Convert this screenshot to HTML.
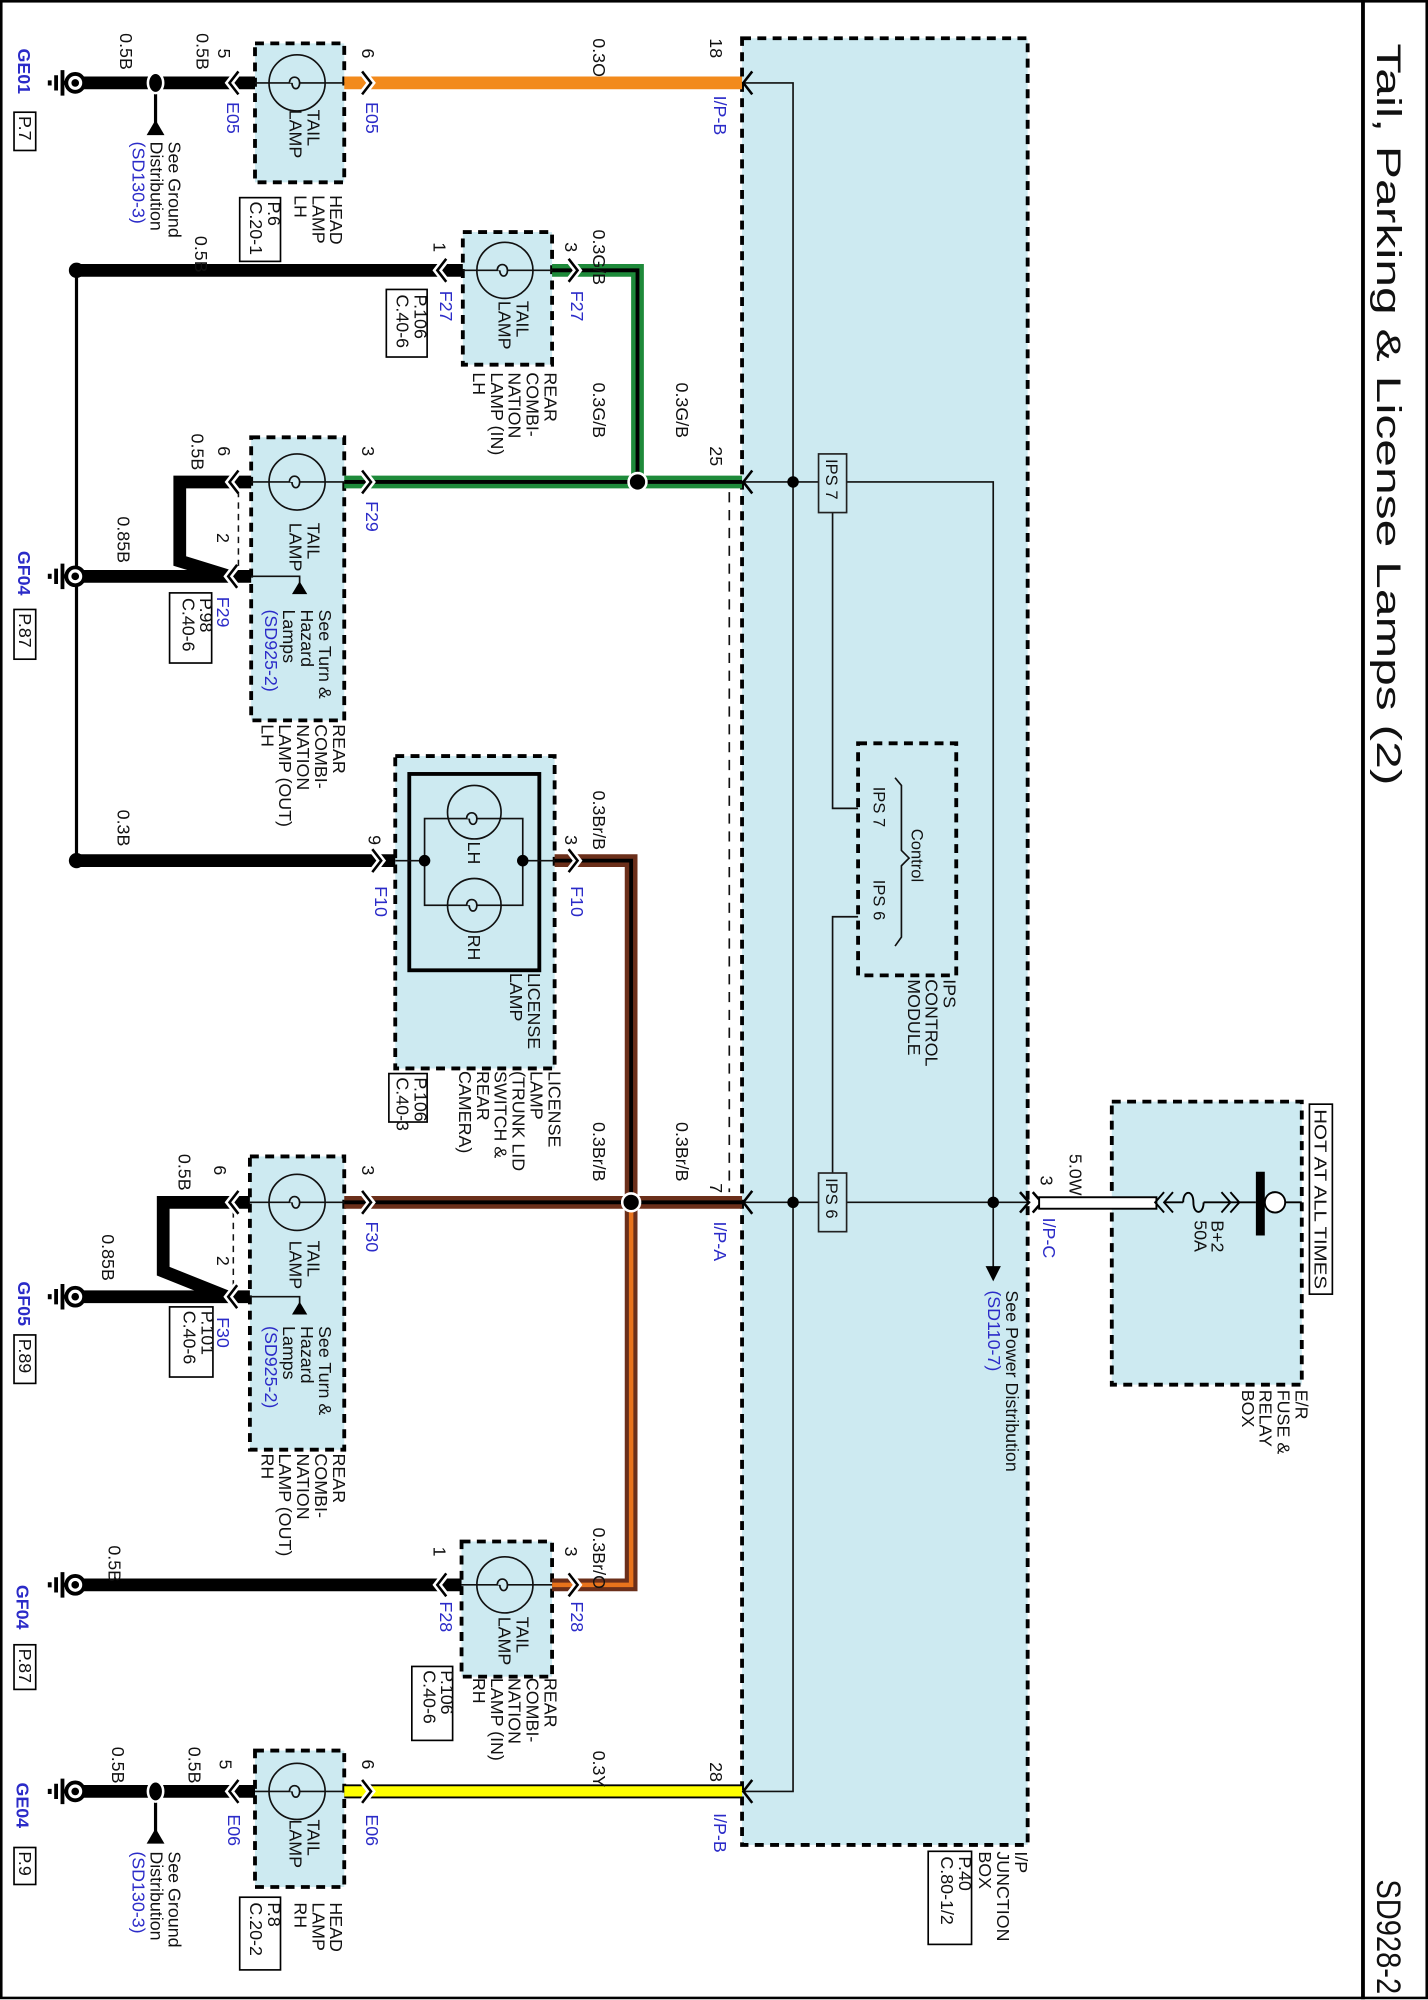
<!DOCTYPE html>
<html><head><meta charset="utf-8"><style>
html,body{margin:0;padding:0;background:#fff}
svg{display:block}
.t{font-family:"Liberation Sans",sans-serif;font-size:14px;fill:#111}
.b{fill:#2b2bc8}
.s{font-size:13px}
</style></head><body>
<svg width="1428" height="2000" viewBox="0 0 1120 1568.6" xmlns="http://www.w3.org/2000/svg">
<!-- frame -->
<rect x="1" y="1" width="1118" height="1566" fill="none" stroke="#000" stroke-width="2"/>
<line x1="1069" y1="0" x2="1069" y2="1568" stroke="#000" stroke-width="3"/>
<text class="t" font-size="27" style="font-size:27px" transform="translate(1080,34) rotate(90)" textLength="582" lengthAdjust="spacingAndGlyphs">Tail, Parking &amp; License Lamps (2)</text>
<text class="t" style="font-size:27px" transform="translate(1080,1474) rotate(90)" textLength="90" lengthAdjust="spacingAndGlyphs">SD928-2</text>

<!-- blue boxes -->
<g fill="#cdeaf1" stroke="#000" stroke-width="3" stroke-dasharray="7 5">
<rect x="582" y="30" width="224" height="1417"/>
<rect x="872" y="864" width="149" height="222"/>
<rect x="200" y="34" width="70" height="109"/>
<rect x="363" y="182" width="70" height="104"/>
<rect x="197" y="343" width="73" height="222"/>
<rect x="310" y="593" width="125" height="245"/>
<rect x="196" y="907" width="74" height="230"/>
<rect x="362" y="1209" width="71" height="106"/>
<rect x="200" y="1373" width="70" height="107"/>
<rect x="673" y="583" width="77" height="182"/>
</g>

<!-- I/P internal thin wiring -->
<g stroke="#111" stroke-width="1.3" fill="none">
<polyline points="582,65 622,65 622,1405 582,1405"/>
<line x1="582" y1="378" x2="642" y2="378"/>
<polyline points="664,378 779,378 779,995"/>
<line x1="582" y1="943" x2="642" y2="943"/>
<line x1="664" y1="943" x2="808" y2="943"/>
<polyline points="653,402 653,634 673,634"/>
<polyline points="653,920 653,719 673,719"/>
<path d="M702,610 L707,616 L707,667 L713,673 L707,679 L707,735 L702,742"/>
<line x1="572" y1="386" x2="572" y2="935" stroke-dasharray="8 6"/>
</g>
<g fill="#000"><circle cx="622" cy="378" r="4.5"/><circle cx="622" cy="943" r="4.5"/><circle cx="779" cy="943" r="4.5"/>
<polygon points="773,993 785,993 779,1005"/></g>
<rect x="642" y="356" width="22" height="46" fill="#cdeaf1" stroke="#222" stroke-width="1.3"/>
<rect x="642" y="920" width="22" height="46" fill="#cdeaf1" stroke="#222" stroke-width="1.3"/>

<!-- wires: black -->
<g stroke="#000" stroke-width="10" fill="none" stroke-linejoin="miter">
<line x1="59" y1="65" x2="200" y2="65"/>
<line x1="60" y1="212" x2="363" y2="212"/>
<polyline points="197,378 141,378 141,440 180,452"/>
<line x1="59" y1="452" x2="197" y2="452"/>
<line x1="60" y1="675" x2="310" y2="675"/>
<polyline points="196,943 128,943 128,997 178,1017"/>
<line x1="59" y1="1017" x2="196" y2="1017"/>
<line x1="59" y1="1243" x2="362" y2="1243"/>
<line x1="59" y1="1405" x2="200" y2="1405"/>
</g>
<line x1="60" y1="212" x2="60" y2="675" stroke="#000" stroke-width="2.5"/>
<g fill="#000"><circle cx="60" cy="212" r="6"/><circle cx="60" cy="675" r="6"/></g>
<!-- splices -->
<g stroke="#000" stroke-width="2.5"><line x1="122" y1="65" x2="122" y2="97"/><line x1="122" y1="1405" x2="122" y2="1437"/></g>
<g fill="#000" stroke="#fff" stroke-width="2"><ellipse cx="122" cy="65" rx="6" ry="8"/><ellipse cx="122" cy="1405" rx="6" ry="8"/></g>
<g fill="#000"><polygon points="115,106 129,106 122,94"/><polygon points="115,1446 129,1446 122,1434"/></g>
<!-- dashed thin on tail lamp out -->
<g stroke="#111" stroke-width="1.2" stroke-dasharray="5 4"><line x1="187" y1="385" x2="187" y2="445"/><line x1="183" y1="950" x2="183" y2="1010"/></g>

<!-- orange -->
<line x1="270" y1="65" x2="582" y2="65" stroke="#f28a1c" stroke-width="10"/>
<!-- green -->
<g fill="none" stroke-linejoin="miter">
<polyline points="433,212 500,212 500,378" stroke="#1e8a3a" stroke-width="10"/>
<polyline points="433,212 500,212 500,378" stroke="#000" stroke-width="3"/>
<line x1="270" y1="378" x2="582" y2="378" stroke="#1e8a3a" stroke-width="10"/>
<line x1="270" y1="378" x2="582" y2="378" stroke="#000" stroke-width="3"/>
<!-- brown -->
<polyline points="435,675 495,675 495,943" stroke="#6b2f1a" stroke-width="10"/>
<polyline points="435,675 495,675 495,943" stroke="#000" stroke-width="3"/>
<polyline points="495,943 495,1243 433,1243" stroke="#6b2f1a" stroke-width="10"/>
<polyline points="495,943 495,1243 433,1243" stroke="#e8731c" stroke-width="3.5"/>
<line x1="270" y1="943" x2="582" y2="943" stroke="#6b2f1a" stroke-width="10"/>
<line x1="270" y1="943" x2="582" y2="943" stroke="#000" stroke-width="3"/>
<!-- yellow -->
<line x1="270" y1="1405" x2="582" y2="1405" stroke="#000" stroke-width="11"/>
<line x1="270" y1="1405" x2="582" y2="1405" stroke="#ffff00" stroke-width="8"/>
</g>
<g fill="#000" stroke="#fff" stroke-width="2"><circle cx="500" cy="378" r="7"/><circle cx="495" cy="943" r="7"/></g>

<!-- grounds -->
<g id="gnds" fill="none" stroke="#000">
<g stroke-width="3"><circle cx="59" cy="65" r="7" fill="#fff"/><circle cx="59" cy="452" r="7" fill="#fff"/><circle cx="59" cy="1017" r="7" fill="#fff"/><circle cx="59" cy="1243" r="7" fill="#fff"/><circle cx="59" cy="1405" r="7" fill="#fff"/></g>
<g stroke-width="3">
<path d="M49,55V75M44,59V71M39,63V67M49,65H52"/>
<path d="M49,442V462M44,446V458M39,450V454M49,452H52"/>
<path d="M49,1007V1027M44,1011V1023M39,1015V1019M49,1017H52"/>
<path d="M49,1233V1253M44,1237V1249M39,1241V1245M49,1243H52"/>
<path d="M49,1395V1415M44,1399V1411M39,1403V1407M49,1405H52"/>
</g></g>
<g fill="#000"><circle cx="59" cy="65" r="3"/><circle cx="59" cy="452" r="3"/><circle cx="59" cy="1017" r="3"/><circle cx="59" cy="1243" r="3"/><circle cx="59" cy="1405" r="3"/></g>

<!-- lamps -->
<g fill="none" stroke="#111" stroke-width="1.3">
<circle cx="233" cy="65" r="22"/><line x1="200" y1="65" x2="270" y2="65"/>
<circle cx="396" cy="212" r="22"/><line x1="363" y1="212" x2="433" y2="212"/>
<circle cx="233" cy="378" r="22"/><line x1="197" y1="378" x2="270" y2="378"/>
<circle cx="233" cy="943" r="22"/><line x1="196" y1="943" x2="270" y2="943"/>
<circle cx="396" cy="1243" r="22"/><line x1="362" y1="1243" x2="433" y2="1243"/>
<circle cx="233" cy="1405" r="22"/><line x1="200" y1="1405" x2="270" y2="1405"/>
<polyline points="197,452 235,452 235,460"/>
<polyline points="196,1017 235,1017 235,1025"/>
<!-- license -->
<rect x="321" y="607" width="102" height="154" stroke="#000" stroke-width="3"/>
<circle cx="372" cy="637" r="21"/><circle cx="372" cy="710" r="21"/>
<rect x="333" y="642" width="77" height="68"/>
<line x1="310" y1="675" x2="333" y2="675"/><line x1="410" y1="675" x2="435" y2="675"/>
</g>
<g fill="#cdeaf1" stroke="#111" stroke-width="1.3">
<path d="M227,65 c0,-6 8,-6 8,0 c0,6 -6,6 -6,0"/>
<path d="M390,212 c0,-6 8,-6 8,0 c0,6 -6,6 -6,0"/>
<path d="M227,378 c0,-6 8,-6 8,0 c0,6 -6,6 -6,0"/>
<path d="M227,943 c0,-6 8,-6 8,0 c0,6 -6,6 -6,0"/>
<path d="M390,1243 c0,-6 8,-6 8,0 c0,6 -6,6 -6,0"/>
<path d="M227,1405 c0,-6 8,-6 8,0 c0,6 -6,6 -6,0"/>
<path d="M366,642 c0,-6 8,-6 8,0 c0,6 -6,6 -6,0"/>
<path d="M366,710 c0,-6 8,-6 8,0 c0,6 -6,6 -6,0"/>
</g>
<g fill="#000"><circle cx="333" cy="675" r="4.5"/><circle cx="410" cy="675" r="4.5"/>
<polygon points="229,466 241,466 235,456"/><polygon points="229,1031 241,1031 235,1021"/></g>

<!-- chevrons -->
<g fill="none" stroke-linecap="butt">
<g stroke="#fff" stroke-width="6">
<path d="M187,56L180,65L187,74M350,203L343,212L350,221M187,369L180,378L187,387M186,443L179,452L186,461M187,934L180,943L187,952M186,1008L179,1017L186,1026M350,1234L343,1243L350,1252M187,1396L180,1405L187,1414"/>
<path d="M284,56L291,65L284,74M446,203L453,212L446,221M284,369L291,378L284,387M292,666L299,675L292,684M446,666L453,675L446,684M284,934L291,943L284,952M446,1234L453,1243L446,1252M284,1396L291,1405L284,1414"/>
</g>
<g stroke="#000" stroke-width="2">
<path d="M187,56L180,65L187,74M350,203L343,212L350,221M187,369L180,378L187,387M186,443L179,452L186,461M187,934L180,943L187,952M186,1008L179,1017L186,1026M350,1234L343,1243L350,1252M187,1396L180,1405L187,1414"/>
<path d="M284,56L291,65L284,74M446,203L453,212L446,221M284,369L291,378L284,387M292,666L299,675L292,684M446,666L453,675L446,684M284,934L291,943L284,952M446,1234L453,1243L446,1252M284,1396L291,1405L284,1414"/>
<path d="M590,56L583,65L590,74M590,369L583,378L590,387M590,934L583,943L590,952M590,1396L583,1405L590,1414"/>
<path d="M800,935L807,943L800,951M810,935L817,943L810,951"/>
</g></g>

<!-- fuse box internals -->
<rect x="815" y="939" width="92" height="9" fill="#fff" stroke="#000" stroke-width="1.5"/>
<g fill="none" stroke="#000" stroke-width="1.5">
<path d="M913,935L906,943L913,951M920,935L913,943L920,951"/>
<line x1="913" y1="943" x2="928" y2="943"/>
<path d="M928,943 c0,-10 8,-10 8,0 c0,10 8,10 8,0"/>
<line x1="944" y1="943" x2="985" y2="943"/>
<path d="M958,935L965,943L958,951M965,935L972,943L965,951"/>
<circle cx="1000" cy="943" r="8" fill="#fff"/>
<line x1="1008" y1="943" x2="1021" y2="943"/>
</g>
<rect x="985" y="919" width="7" height="50" fill="#000"/>
<rect x="1027" y="866" width="18" height="149" fill="none" stroke="#000" stroke-width="1.3"/>

<!-- ref boxes -->
<g fill="#fff" stroke="#000" stroke-width="1.3">
<rect x="11" y="88" width="17" height="30"/>
<rect x="188" y="155" width="32" height="50"/>
<rect x="303" y="227" width="32" height="53"/>
<rect x="11" y="478" width="17" height="39"/>
<rect x="133" y="465" width="33" height="55"/>
<rect x="305" y="842" width="30" height="38"/>
<rect x="11" y="1047" width="17" height="38"/>
<rect x="133" y="1025" width="34" height="55"/>
<rect x="11" y="1290" width="17" height="35"/>
<rect x="323" y="1307" width="32" height="58"/>
<rect x="11" y="1449" width="17" height="29"/>
<rect x="188" y="1488" width="32" height="57"/>
<rect x="728" y="1452" width="34" height="73"/>
</g>

<!-- texts -->
<g class="t">
<text class="t b" font-weight="bold" transform="translate(14,38) rotate(90)">GE01</text>
<text class="t" transform="translate(15,91) rotate(90)">P.7</text>
<text class="t" transform="translate(94,26) rotate(90)">0.5B</text>
<text class="t" transform="translate(154,26) rotate(90)">0.5B</text>
<text class="t" transform="translate(171,38) rotate(90)">5</text>
<text class="t b" transform="translate(178,80) rotate(90)">E05</text>
<text class="t" transform="translate(284,38) rotate(90)">6</text>
<text class="t b" transform="translate(287,80) rotate(90)">E05</text>
<text class="t" transform="translate(241,86) rotate(90)"><tspan x="0" y="0">TAIL</tspan><tspan x="0" dy="14">LAMP</tspan></text>
<text class="t" transform="translate(259,153) rotate(90)"><tspan x="0" y="0">HEAD</tspan><tspan x="0" dy="14">LAMP</tspan><tspan x="0" dy="14">LH</tspan></text>
<text class="t" transform="translate(210,158) rotate(90)"><tspan x="0" y="0">P.6</tspan><tspan x="0" dy="14">C.20-1</tspan></text>
<text class="t" transform="translate(132,111) rotate(90)"><tspan x="0" y="0">See Ground</tspan><tspan x="0" dy="14">Distribution</tspan><tspan x="0" dy="14" class="b">(SD130-3)</tspan></text>
<text class="t" transform="translate(465,30) rotate(90)">0.3O</text>
<text class="t" transform="translate(557,30) rotate(90)">18</text>
<text class="t b" transform="translate(560,75) rotate(90)">I/P-B</text>

<text class="t" transform="translate(153,185) rotate(90)">0.5B</text>
<text class="t" transform="translate(340,190) rotate(90)">1</text>
<text class="t b" transform="translate(345,228) rotate(90)">F27</text>
<text class="t" transform="translate(325,231) rotate(90)"><tspan x="0" y="0">P.106</tspan><tspan x="0" dy="14">C.40-6</tspan></text>
<text class="t" transform="translate(405,236) rotate(90)"><tspan x="0" y="0">TAIL</tspan><tspan x="0" dy="14">LAMP</tspan></text>
<text class="t" transform="translate(443,190) rotate(90)">3</text>
<text class="t b" transform="translate(448,228) rotate(90)">F27</text>
<text class="t" transform="translate(427,292) rotate(90)"><tspan x="0" y="0">REAR</tspan><tspan x="0" dy="14">COMBI-</tspan><tspan x="0" dy="14">NATION</tspan><tspan x="0" dy="14">LAMP (IN)</tspan><tspan x="0" dy="14">LH</tspan></text>
<text class="t" transform="translate(465,180) rotate(90)">0.3G/B</text>

<text class="t" transform="translate(150,340) rotate(90)">0.5B</text>
<text class="t" transform="translate(171,350) rotate(90)">6</text>
<text class="t" transform="translate(92,405) rotate(90)">0.85B</text>
<text class="t" transform="translate(170,418) rotate(90)">2</text>
<text class="t b" transform="translate(170,468) rotate(90)">F29</text>
<text class="t" transform="translate(157,469) rotate(90)"><tspan x="0" y="0">P.98</tspan><tspan x="0" dy="14">C.40-6</tspan></text>
<text class="t b" font-weight="bold" transform="translate(14,432) rotate(90)">GF04</text>
<text class="t" transform="translate(15,481) rotate(90)">P.87</text>
<text class="t" transform="translate(241,410) rotate(90)"><tspan x="0" y="0">TAIL</tspan><tspan x="0" dy="14">LAMP</tspan></text>
<text class="t" transform="translate(284,350) rotate(90)">3</text>
<text class="t b" transform="translate(287,393) rotate(90)">F29</text>
<text class="t" transform="translate(250,478) rotate(90)"><tspan x="0" y="0">See Turn &amp;</tspan><tspan x="0" dy="14">Hazard</tspan><tspan x="0" dy="14">Lamps</tspan><tspan x="0" dy="14" class="b">(SD925-2)</tspan></text>
<text class="t" transform="translate(261,568) rotate(90)"><tspan x="0" y="0">REAR</tspan><tspan x="0" dy="14">COMBI-</tspan><tspan x="0" dy="14">NATION</tspan><tspan x="0" dy="14">LAMP (OUT)</tspan><tspan x="0" dy="14">LH</tspan></text>
<text class="t" transform="translate(465,300) rotate(90)">0.3G/B</text>
<text class="t" transform="translate(530,300) rotate(90)">0.3G/B</text>
<text class="t" transform="translate(557,350) rotate(90)">25</text>

<text class="t" transform="translate(92,635) rotate(90)">0.3B</text>
<text class="t" transform="translate(289,655) rotate(90)">9</text>
<text class="t b" transform="translate(294,695) rotate(90)">F10</text>
<text class="t" transform="translate(443,655) rotate(90)">3</text>
<text class="t b" transform="translate(448,695) rotate(90)">F10</text>
<text class="t" transform="translate(465,620) rotate(90)">0.3Br/B</text>
<text class="t" transform="translate(367,660) rotate(90)">LH</text>
<text class="t" transform="translate(367,733) rotate(90)">RH</text>
<text class="t" transform="translate(414,763) rotate(90)"><tspan x="0" y="0">LICENSE</tspan><tspan x="0" dy="14">LAMP</tspan></text>
<text class="t" transform="translate(430,840) rotate(90)"><tspan x="0" y="0">LICENSE</tspan><tspan x="0" dy="14">LAMP</tspan><tspan x="0" dy="14">(TRUNK LID</tspan><tspan x="0" dy="14">SWITCH &amp;</tspan><tspan x="0" dy="14">REAR</tspan><tspan x="0" dy="14">CAMERA)</tspan></text>
<text class="t" transform="translate(325,845) rotate(90)"><tspan x="0" y="0">P.106</tspan><tspan x="0" dy="14">C.40-3</tspan></text>

<text class="t" transform="translate(140,905) rotate(90)">0.5B</text>
<text class="t" transform="translate(168,914) rotate(90)">6</text>
<text class="t" transform="translate(80,968) rotate(90)">0.85B</text>
<text class="t" transform="translate(170,985) rotate(90)">2</text>
<text class="t b" transform="translate(170,1033) rotate(90)">F30</text>
<text class="t" transform="translate(158,1028) rotate(90)"><tspan x="0" y="0">P.101</tspan><tspan x="0" dy="14">C.40-6</tspan></text>
<text class="t b" font-weight="bold" transform="translate(14,1005) rotate(90)">GF05</text>
<text class="t" transform="translate(15,1050) rotate(90)">P.89</text>
<text class="t" transform="translate(241,973) rotate(90)"><tspan x="0" y="0">TAIL</tspan><tspan x="0" dy="14">LAMP</tspan></text>
<text class="t" transform="translate(284,914) rotate(90)">3</text>
<text class="t b" transform="translate(287,958) rotate(90)">F30</text>
<text class="t" transform="translate(250,1040) rotate(90)"><tspan x="0" y="0">See Turn &amp;</tspan><tspan x="0" dy="14">Hazard</tspan><tspan x="0" dy="14">Lamps</tspan><tspan x="0" dy="14" class="b">(SD925-2)</tspan></text>
<text class="t" transform="translate(261,1140) rotate(90)"><tspan x="0" y="0">REAR</tspan><tspan x="0" dy="14">COMBI-</tspan><tspan x="0" dy="14">NATION</tspan><tspan x="0" dy="14">LAMP (OUT)</tspan><tspan x="0" dy="14">RH</tspan></text>
<text class="t" transform="translate(465,880) rotate(90)">0.3Br/B</text>
<text class="t" transform="translate(530,880) rotate(90)">0.3Br/B</text>
<text class="t" transform="translate(557,928) rotate(90)">7</text>
<text class="t b" transform="translate(560,958) rotate(90)">I/P-A</text>

<text class="t" transform="translate(85,1212) rotate(90)">0.5B</text>
<text class="t b" font-weight="bold" transform="translate(13,1243) rotate(90)">GF04</text>
<text class="t" transform="translate(15,1293) rotate(90)">P.87</text>
<text class="t" transform="translate(340,1213) rotate(90)">1</text>
<text class="t b" transform="translate(345,1256) rotate(90)">F28</text>
<text class="t" transform="translate(346,1310) rotate(90)"><tspan x="0" y="0">P.106</tspan><tspan x="0" dy="14">C.40-6</tspan></text>
<text class="t" transform="translate(405,1268) rotate(90)"><tspan x="0" y="0">TAIL</tspan><tspan x="0" dy="14">LAMP</tspan></text>
<text class="t" transform="translate(443,1213) rotate(90)">3</text>
<text class="t b" transform="translate(448,1256) rotate(90)">F28</text>
<text class="t" transform="translate(465,1198) rotate(90)">0.3Br/O</text>
<text class="t" transform="translate(427,1316) rotate(90)"><tspan x="0" y="0">REAR</tspan><tspan x="0" dy="14">COMBI-</tspan><tspan x="0" dy="14">NATION</tspan><tspan x="0" dy="14">LAMP (IN)</tspan><tspan x="0" dy="14">RH</tspan></text>

<text class="t b" font-weight="bold" transform="translate(13,1398) rotate(90)">GE04</text>
<text class="t" transform="translate(15,1452) rotate(90)">P.9</text>
<text class="t" transform="translate(88,1370) rotate(90)">0.5B</text>
<text class="t" transform="translate(148,1370) rotate(90)">0.5B</text>
<text class="t" transform="translate(172,1380) rotate(90)">5</text>
<text class="t b" transform="translate(179,1423) rotate(90)">E06</text>
<text class="t" transform="translate(241,1427) rotate(90)"><tspan x="0" y="0">TAIL</tspan><tspan x="0" dy="14">LAMP</tspan></text>
<text class="t" transform="translate(284,1380) rotate(90)">6</text>
<text class="t b" transform="translate(287,1423) rotate(90)">E06</text>
<text class="t" transform="translate(259,1492) rotate(90)"><tspan x="0" y="0">HEAD</tspan><tspan x="0" dy="14">LAMP</tspan><tspan x="0" dy="14">RH</tspan></text>
<text class="t" transform="translate(210,1492) rotate(90)"><tspan x="0" y="0">P.8</tspan><tspan x="0" dy="14">C.20-2</tspan></text>
<text class="t" transform="translate(132,1452) rotate(90)"><tspan x="0" y="0">See Ground</tspan><tspan x="0" dy="14">Distribution</tspan><tspan x="0" dy="14" class="b">(SD130-3)</tspan></text>
<text class="t" transform="translate(465,1373) rotate(90)">0.3Y</text>
<text class="t" transform="translate(557,1382) rotate(90)">28</text>
<text class="t b" transform="translate(560,1422) rotate(90)">I/P-B</text>

<text class="t s" transform="translate(648,360) rotate(90)">IPS 7</text>
<text class="t s" transform="translate(648,924) rotate(90)">IPS 6</text>
<text class="t s" transform="translate(685,617) rotate(90)">IPS 7</text>
<text class="t s" transform="translate(685,690) rotate(90)">IPS 6</text>
<text class="t s" transform="translate(715,650) rotate(90)">Control</text>
<text class="t" transform="translate(740,768) rotate(90)"><tspan x="0" y="0">IPS</tspan><tspan x="0" dy="14">CONTROL</tspan><tspan x="0" dy="14">MODULE</tspan></text>
<text class="t" transform="translate(789,1012) rotate(90)"><tspan x="0" y="0">See Power Distribution</tspan><tspan x="0" dy="14" class="b">(SD110-7)</tspan></text>
<text class="t" transform="translate(796,1452) rotate(90)"><tspan x="0" y="0">I/P</tspan><tspan x="0" dy="14">JUNCTION</tspan><tspan x="0" dy="14">BOX</tspan></text>
<text class="t" transform="translate(752,1456) rotate(90)"><tspan x="0" y="0">P.40</tspan><tspan x="0" dy="14">C.80-1/2</tspan></text>

<text class="t" transform="translate(816,922) rotate(90)">3</text>
<text class="t" transform="translate(839,905) rotate(90)">5.0W</text>
<text class="t b" transform="translate(818,955) rotate(90)">I/P-C</text>
<text class="t" transform="translate(950,957) rotate(90)"><tspan x="0" y="0">B+2</tspan><tspan x="0" dy="13">50A</tspan></text>
<text class="t" transform="translate(1031,870) rotate(90)" textLength="141" lengthAdjust="spacingAndGlyphs">HOT AT ALL TIMES</text>
<text class="t" transform="translate(1016,1090) rotate(90)"><tspan x="0" y="0">E/R</tspan><tspan x="0" dy="14">FUSE &amp;</tspan><tspan x="0" dy="14">RELAY</tspan><tspan x="0" dy="14">BOX</tspan></text>
</g>
</svg>
</body></html>
